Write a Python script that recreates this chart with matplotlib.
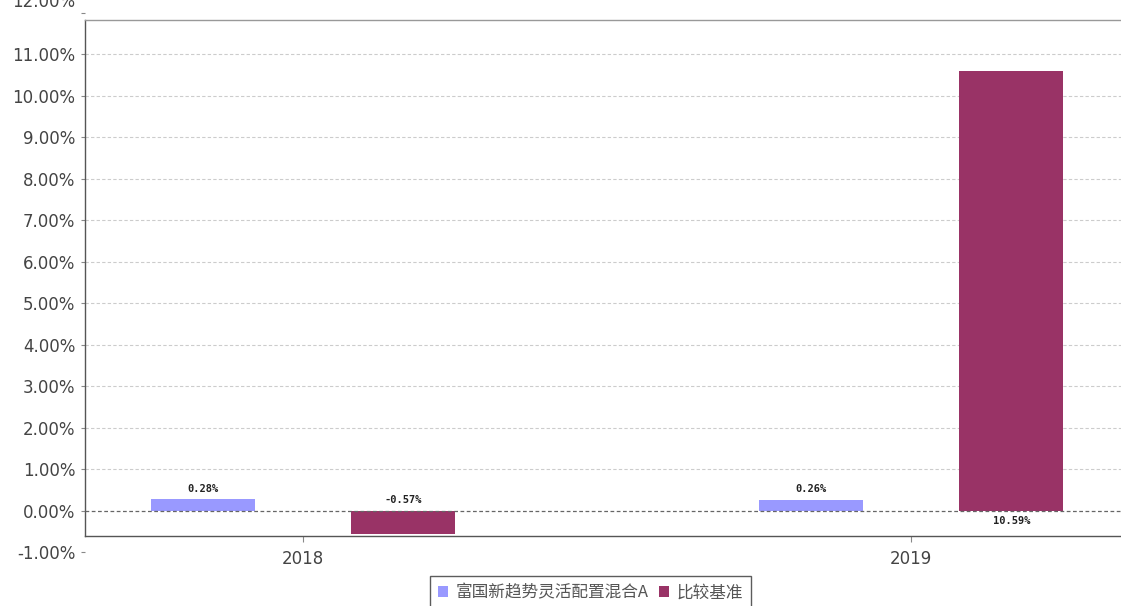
import matplotlib
matplotlib.use("Agg")
import matplotlib.pyplot as plt
import matplotlib.transforms as mtransforms
from matplotlib.patches import Patch
import numpy as np

# data
years = ["2018", "2019"]
fund_name = "富国新趋势灵活配置混合A"
bench_name = "比较基准"
fund_vals = [0.28, 0.26]
bench_vals = [-0.57, 10.59]
y_ticks = list(range(-1, 13))

BLUE = "#9999ff"
RED = "#993366"

plt.rcParams["font.family"] = ["DejaVu Sans", "Noto Sans CJK SC"]

W, H = 1121, 606
fig = plt.figure(figsize=(W / 100, H / 100), dpi=100)
fig.patch.set_facecolor("white")

# axes box in pixels: left spine x=85, y range -1..12 from y=552 to y=12.7
left_px, right_px = 85, 1129
top_px, bot_px = 12.7, 552.2
ax = fig.add_axes([left_px / W, (H - bot_px) / H,
                   (right_px - left_px) / W, (bot_px - top_px) / H])

x = np.arange(len(years))
off = 0.165
bw = 0.171
ax.bar(x - off, fund_vals, bw, color=BLUE, zorder=2)
ax.bar(x + off, bench_vals, bw, color=RED, zorder=2)

ax.set_xlim(-0.3586, len(years) - 1 + 0.3586)
ax.set_ylim(y_ticks[0], y_ticks[-1])

# grid lines only inside the plot frame
for t in y_ticks[1:-1]:
    if t == 0:
        ax.axhline(t, color="#666666", lw=0.9, ls=(0, (3, 2)), zorder=3)
    else:
        ax.axhline(t, color="#cccccc", lw=0.8, ls=(0, (3, 2)), zorder=1)

# value labels
lab_kw = dict(textcoords="offset points", ha="center", fontsize=7.5,
              family="DejaVu Sans Mono", fontweight="bold", color="#222222", zorder=4)
for xi, v in zip(x, fund_vals):
    ax.annotate(f"{v:.2f}%", (xi - off, v), xytext=(0, 4), va="bottom", **lab_kw)
for xi, v in zip(x, bench_vals):
    dy, va = (4, "bottom") if v < 0 else (-4, "top")
    ax.annotate(f"{v:.2f}%", (xi + off, 0), xytext=(0, dy), va=va, **lab_kw)

# frame: drawn from -0.61% to 11.82%
y_bot, y_top = -0.61, 11.82
ax.spines["right"].set_visible(False)
ax.spines["bottom"].set_position(("data", y_bot))
ax.spines["top"].set_position(("data", y_top))
ax.spines["left"].set_bounds(y_bot, y_top)
ax.spines["left"].set_color("#555555")
ax.spines["bottom"].set_color("#555555")
ax.spines["top"].set_color("#999999")
for s in ax.spines.values():
    s.set_linewidth(1.0)

ax.set_yticks(y_ticks)
ax.set_yticklabels([f"{t:.2f}%" for t in y_ticks])
ax.set_xticks(x)
ax.set_xticklabels(years)
ax.tick_params(axis="y", length=3, width=0.8, color="#888888", labelsize=12,
               labelcolor="#444444", pad=4)
ax.tick_params(axis="x", length=4, width=0.8, color="#888888", labelsize=12,
               labelcolor="#444444", pad=6)
ax.tick_params(top=False, right=False)

# the top label sits partly above the image edge in the reference
top_lab = ax.get_yticklabels()[-1]
top_lab.set_transform(top_lab.get_transform() +
                      mtransforms.ScaledTranslation(0, 9 / 72, fig.dpi_scale_trans))

# legend
handles = [Patch(facecolor=BLUE, edgecolor="none"), Patch(facecolor=RED, edgecolor="none")]
leg = fig.legend(handles, [fund_name, bench_name], loc="center",
                 bbox_to_anchor=(590.5 / W, (H - 593) / H), ncol=2, frameon=True,
                 fancybox=False, edgecolor="#333333", handlelength=0.6, handleheight=0.6,
                 handletextpad=0.45, columnspacing=0.6, borderpad=0.5,
                 prop={"family": ["Noto Sans CJK SC", "DejaVu Sans"], "size": 12})
leg.get_frame().set_linewidth(1.0)
for t in leg.get_texts():
    t.set_color("#555555")

fig.savefig("out.png", dpi=100)
